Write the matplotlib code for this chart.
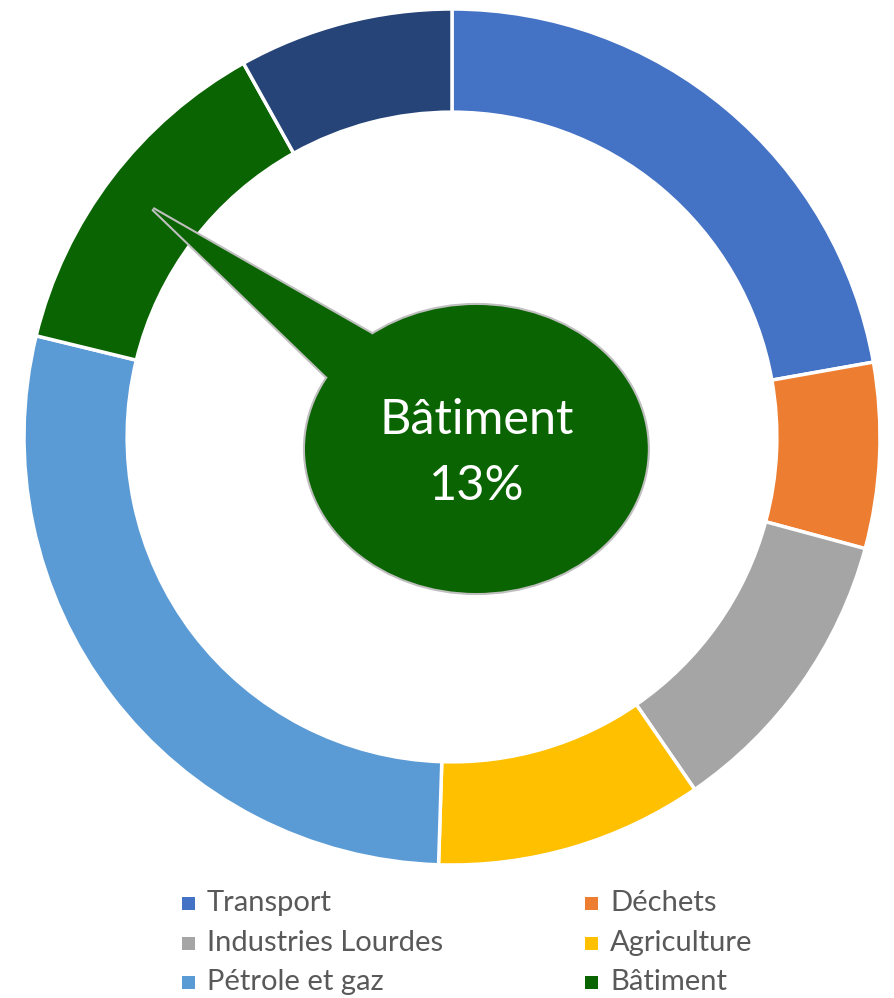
import matplotlib
matplotlib.use("Agg")
from matplotlib import pyplot as plt
from matplotlib.patches import Ellipse, Polygon, Rectangle

plt.rcParams['font.family'] = ['Lato', 'DejaVu Sans']

# parts of the ring, clockwise from 12 o'clock (%)
sectors = ['Transport', 'Déchets', 'Industries Lourdes', 'Agriculture',
           'Pétrole et gaz', 'Bâtiment', 'Autres']
shares = [22.2, 7.0, 11.2, 10.1, 28.3, 13.1, 8.1]
colors = ['#4472C4', '#ED7D31', '#A5A5A5', '#FFC000',
          '#5B9BD5', '#0A6402', '#264478']
legend_items = sectors[:6]   # the 7th row is cut off in the original

callout_label = 'Bâtiment'
callout_value = '13%'

W, H = 894, 998
fig = plt.figure(figsize=(W / 100, H / 100), dpi=100)

cx, cy, R = 452, 437, 428
ax = fig.add_axes([(cx - R) / W, (H - cy - R) / H, 2 * R / W, 2 * R / H])
ax.pie(shares, colors=colors, startangle=90, counterclock=False, radius=1,
       wedgeprops=dict(width=0.241, edgecolor='white', linewidth=2.5))
ax.set_xlim(-1, 1)
ax.set_ylim(-1, 1)
ax.set_aspect('equal')
ax.axis('off')

# speech bubble pointing at the Bâtiment slice
green = '#0B6402'
ell_c = (0.057, -0.028)
ell_w, ell_h = 0.801, 0.673
tip = (-0.699, 0.533)
b_right = (-0.188, 0.241)
b_left = (-0.293, 0.141)
tri = [tip, b_right, ell_c, b_left]

# outlines first, fill on top so the seam between the two shapes is hidden
ax.add_patch(Ellipse(ell_c, ell_w, ell_h, facecolor='none', edgecolor='#BFBFBF',
                     linewidth=3, zorder=5))
ax.add_patch(Polygon(tri, closed=True, facecolor='none', edgecolor='#BFBFBF',
                     linewidth=3, joinstyle='miter', zorder=5))
ax.add_patch(Ellipse(ell_c, ell_w, ell_h, facecolor=green, edgecolor='none',
                     linewidth=0, zorder=6))
ax.add_patch(Polygon(tri, closed=True, facecolor=green, edgecolor='none',
                     linewidth=0, zorder=6))
ax.text(0.057, 0.040, callout_label, color='white', fontsize=35,
        ha='center', va='center', zorder=7)
ax.text(0.057, -0.115, callout_value, color='white', fontsize=35,
        ha='center', va='center', zorder=7)

# legend, two columns, row-wise order
col_x = [182, 585]
row_y = [903, 943, 982]
sq = 13
for i, name in enumerate(legend_items):
    x = col_x[i % 2]
    y = row_y[i // 2]
    fig.patches.append(Rectangle((x / W, (H - y - sq / 2) / H), sq / W, sq / H,
                                 facecolor=colors[i], edgecolor='none',
                                 transform=fig.transFigure, figure=fig))
    fig.text((x + 25) / W, (H - y) / H, name, color='#595959', fontsize=21,
             ha='left', va='center')

fig.savefig('out.png', dpi=100)
